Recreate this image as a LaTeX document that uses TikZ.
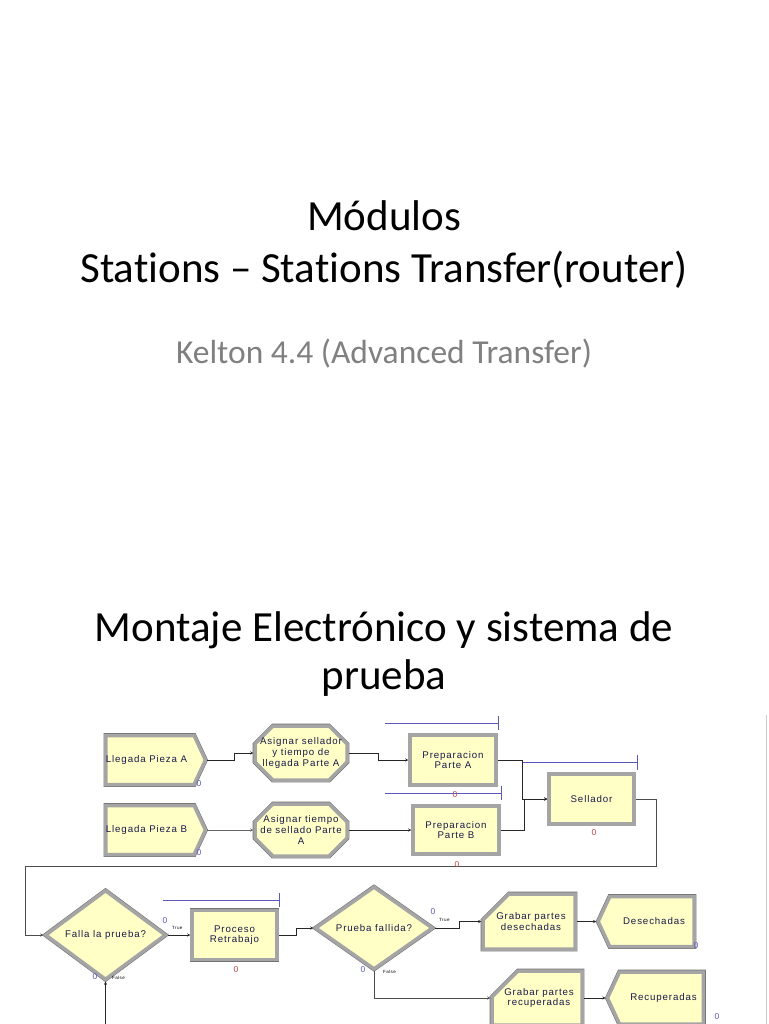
\documentclass[tikz,border=0pt]{standalone}
\usepackage{fontspec}
\setmainfont[Ligatures=NoCommon]{Carlito}
\newfontfamily\arena[LetterSpace=9]{Liberation Sans}
\usetikzlibrary{shapes.geometric,shapes.misc,shapes.symbols,arrows.meta}
\definecolor{ayellow}{RGB}{255,255,198}
\definecolor{aborder}{RGB}{165,165,165}
\definecolor{adark}{RGB}{115,115,115}
\definecolor{atext}{RGB}{25,25,75}
\definecolor{ablue}{RGB}{90,90,190}
\definecolor{ared}{RGB}{190,70,70}
\definecolor{subgray}{RGB}{128,128,128}
\newcommand{\modbox}[2]{\rule{#1}{0pt}\rule[-0.5\dimexpr#2\relax]{0pt}{#2}}
\tikzset{
  modfont/.style={font=\arena\fontsize{9.7}{10.6}\selectfont, text=atext, align=center},
  mod/.style={draw=aborder, fill=ayellow, line width=3.5pt, inner sep=0pt, modfont,
    preaction={draw=adark, line width=4.6pt}},
  createmod/.style={mod, signal, signal to=east, signal pointer angle=130},
  disposemod/.style={mod, signal, signal to=west, signal pointer angle=130},
  assignmod/.style={mod, chamfered rectangle, chamfered rectangle xsep=9pt, chamfered rectangle ysep=9pt},
  recordmod/.style={mod, chamfered rectangle, chamfered rectangle corners=north west, chamfered rectangle xsep=13pt, chamfered rectangle ysep=13pt},
  procmod/.style={mod, rectangle},
  decidemod/.style={mod, diamond},
  inlabel/.style={label={[modfont, inner sep=0pt]center:#1}},
  conn/.style={draw=black!85, line width=0.9pt, -{Stealth[length=3pt,width=3pt]}},
  queue/.style={draw=ablue, line width=0.8pt},
  cntb/.style={text=ablue, font=\arena\fontsize{8.5}{9}\selectfont, inner sep=0pt},
  cntr/.style={text=ared, font=\arena\fontsize{8.5}{9}\selectfont, inner sep=0pt},
  tiny/.style={text=black, font=\arena\fontsize{4.5}{5}\selectfont, inner sep=0pt},
  title/.style={font=\fontsize{43}{50}\selectfont, text=black, inner sep=0pt},
  subtitle/.style={font=\fontsize{33.5}{40}\selectfont, text=subgray, inner sep=0pt},
}
\begin{document}
\begin{tikzpicture}[x=1pt,y=-1pt]
\useasboundingbox (0,0) rectangle (768,1024);
\clip (0,0) rectangle (768,1024);
\fill[white] (0,0) rectangle (768,1024);

% titles
\node[title, anchor=base] (t1) at (384,231) {Módulos};
\node[title, anchor=base] (t2) at (384,282) {Stations – Stations Transfer(router)};
\node[subtitle, anchor=base] (t3) at (384,363) {Kelton 4.4 (Advanced Transfer)};
\node[title, anchor=base] (t4) at (384,641) {Montaje Electrónico y sistema de};
\node[title, anchor=base] (t5) at (384,689) {prueba};

% right edge line
\draw[gray!40, line width=0.8pt] (766,715) -- (766,1024);

% modules
\node[createmod, minimum width=96pt, minimum height=49pt] (cA) at (150,760) {Llegada Pieza A\hspace*{7pt}};
\node[createmod, minimum width=96pt, minimum height=49pt] (cB) at (150,830) {Llegada Pieza B\hspace*{7pt}};
\node[assignmod, inlabel={Asignar sellador\\y tiempo de\\llegada Parte A}] (asA) at (301,753) {\modbox{74pt}{36pt}};
\node[assignmod, inlabel={Asignar tiempo\\de sellado Parte\\A}] (asB) at (301,830) {\modbox{74pt}{34pt}};
\node[procmod, minimum width=86pt, minimum height=50pt] (pA) at (453,760) {Preparacion\\Parte A};
\node[procmod, minimum width=86pt, minimum height=48pt] (pB) at (456,830) {Preparacion\\Parte B};
\node[procmod, minimum width=85pt, minimum height=50pt] (sel) at (591.5,799) {Sellador};
\node[decidemod, minimum width=121pt, minimum height=78pt] (falla) at (105.5,935) {Falla la prueba?};
\node[procmod, minimum width=85pt, minimum height=49pt] (proc) at (234.5,935) {Proceso\\Retrabajo};
\node[decidemod, minimum width=118pt, minimum height=79pt] (prueba) at (374,928) {Prueba fallida?};
\node[recordmod, inlabel={\hspace*{4pt}Grabar partes\\\hspace*{4pt}desechadas}] (grabD) at (529,921.5) {\modbox{66pt}{29pt}};
\node[disposemod, minimum width=96pt, minimum height=50pt] (des) at (652,921.5) {\hspace*{4pt}Desechadas};
\node[recordmod, inlabel={\hspace*{4pt}Grabar partes\\\hspace*{4pt}recuperadas}] (grabR) at (537,998) {\modbox{64pt}{28pt}};
\node[disposemod, minimum width=96pt, minimum height=52pt] (rec) at (661.5,998) {\hspace*{4pt}Recuperadas};

% helper coordinates
\coordinate (r1) at (656,866);
\coordinate (l1) at (25,866);
\coordinate (fb) at (105.5,1030);

% connectors
\draw[conn] (cA.east) -- ++(27,0) |- (asA.west);
\draw[conn] (asA.east) -- ++(30,0) |- (pA.west);
\draw[conn, draw=black!60, line width=0.7pt] (cB.east) -- (asB.west);
\draw[conn] (asB.east) -- (pB.west);
\draw[conn] (pA.east) -- ++(25,0) |- (sel.west);
\draw[conn] (pB.east) -- ++(24,0) |- (sel.west);
\draw[conn, draw=black!70] (sel.east) -| (r1) -- (l1) |- (falla.west);
\draw[conn] (falla.east) -- (proc.west);
\draw[conn] (proc.east) -- ++(18,0) |- (prueba.west);
\draw[conn] (prueba.east) -- ++(25,0) |- (grabD.west);
\draw[conn] (grabD.east) -- (des.west);
\draw[conn, draw=black!70] (prueba.south) |- (grabR.west);
\draw[conn] (grabR.east) -- (rec.west);
\draw[conn] (fb) -- (falla.south);

% queues
\draw[queue] (385,723) -- (498,723) (498,716) -- (498,730);
\draw[queue] (385,793) -- (501,793) (501,786) -- (501,800);
\draw[queue] (523,762) -- (637,762) (637,755) -- (637,770);
\draw[queue] (163,900) -- (279,900) (279,893) -- (279,907);

% counters
\node[cntb] (n1) at (199,784) {0};
\node[cntb] (n2) at (199,853) {0};
\node[cntr] (n3) at (455,795) {0};
\node[cntr] (n4) at (457,865) {0};
\node[cntr] (n5) at (594,833) {0};
\node[cntb] (n6) at (165,921) {0};
\node[cntb] (n7) at (95,977) {0};
\node[cntr] (n8) at (236,970) {0};
\node[cntb] (n9) at (433,912) {0};
\node[cntb] (n10) at (363,970) {0};
\node[cntb] (n11) at (696,946) {0};
\node[cntb] (n12) at (717,1017) {0};

% branch labels
\node[tiny, anchor=west] (l1t) at (172,928) {True};
\node[tiny, anchor=west] (l1f) at (112,978) {False};
\node[tiny, anchor=west] (l2t) at (439,920) {True};
\node[tiny, anchor=west] (l2f) at (383,972) {False};
\end{tikzpicture}
\end{document}
